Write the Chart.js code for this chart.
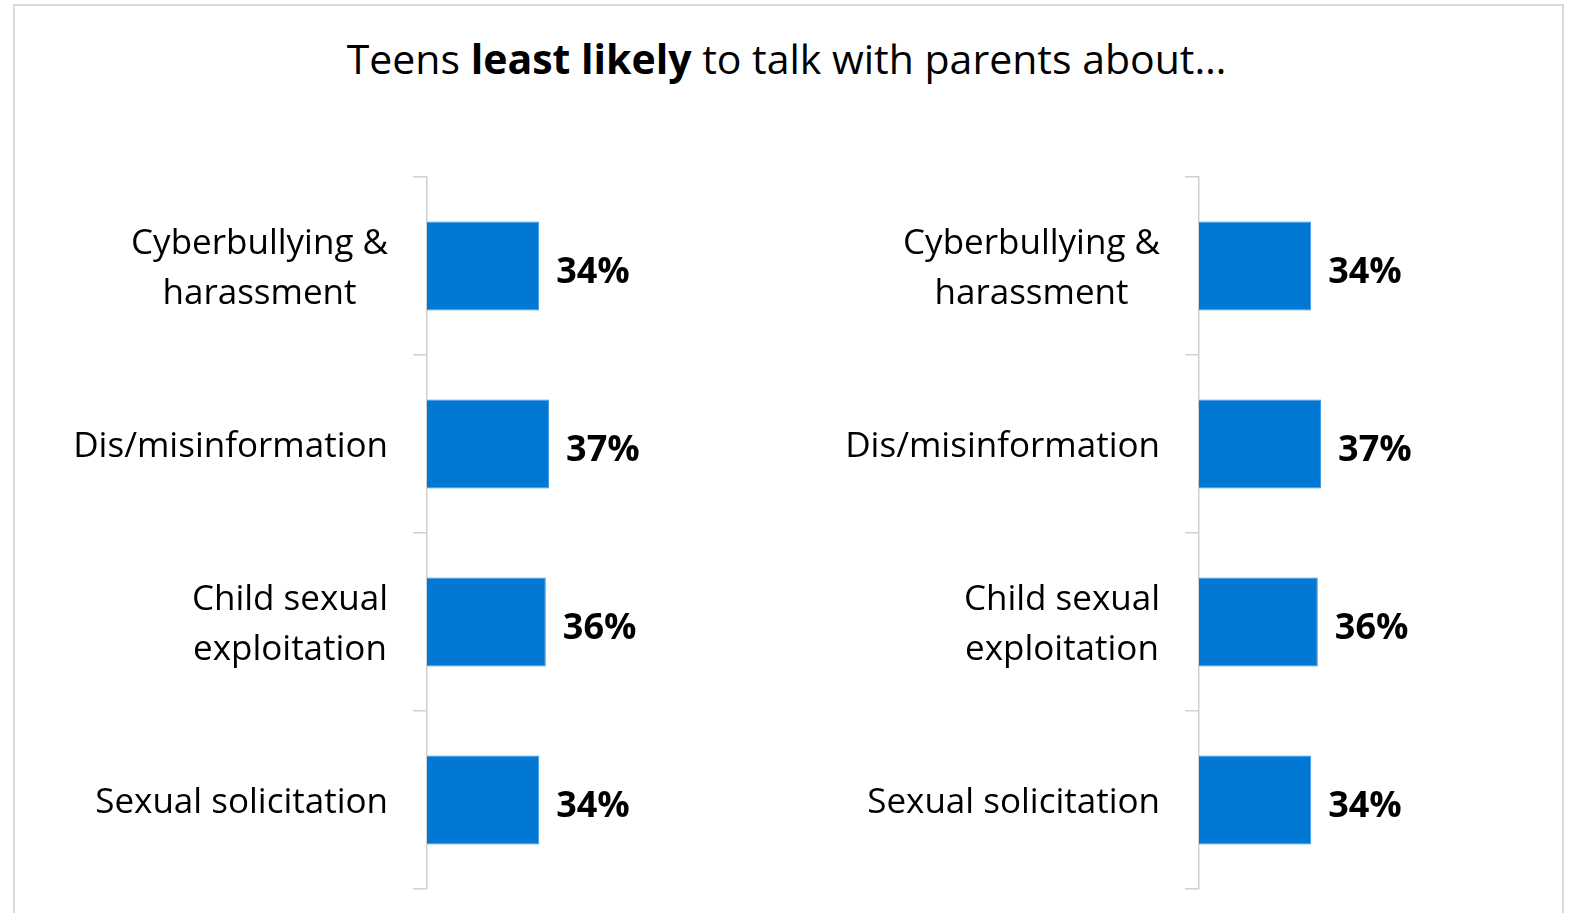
<!DOCTYPE html>
<html>
<head>
<meta charset="utf-8">
<script src="https://cdn.jsdelivr.net/npm/chart.js@4.4.1/dist/chart.umd.min.js"></script>
<style>
  html, body { margin: 0; padding: 0; background: #fff; overflow: hidden; }
  body { width: 1573px; height: 913px; position: relative; font-family: "Open Sans", sans-serif; }
  .frame { position: absolute; left: 13px; top: 4px; width: 1551px; height: 1000px; border: 2px solid #dadada; box-sizing: border-box; }
  .title { position: absolute; left: 0; top: 28px; width: 1573px; text-align: center; font-size: 41px; color: #000; line-height: 60px; }
  .title b { font-weight: 700; }
  .panel { position: absolute; top: 130px; width: 770px; height: 783px; }
</style>
</head>
<body>
<div class="frame"></div>
<div class="title">Teens <b>least likely</b> to talk with parents about…</div>
<div class="panel" style="left:14px"><canvas id="chartLeft"></canvas></div>
<div class="panel" style="left:786px"><canvas id="chartRight"></canvas></div>
<script>
const categories = [
    ['Cyberbullying &', 'harassment'],
    ['Dis/misinformation'],
    ['Child sexual', 'exploitation'],
    ['Sexual solicitation']
];
const leftValues = [34, 37, 36, 34];
const rightValues = [34, 37, 36, 34];

const barColor = '#0078d4';
const axisColor = '#d0d0d0';

// category names drawn left of the axis: block right-aligned, lines centred in the block
const categoryLabels = {
    id: 'categoryLabels',
    afterDraw(chart) {
        const ctx = chart.ctx;
        const yScale = chart.scales.y;
        const right = chart.chartArea.left - 39;
        const lineHeight = 50;
        ctx.save();
        ctx.font = '35px "Open Sans"';
        ctx.fillStyle = '#000';
        ctx.textAlign = 'center';
        ctx.textBaseline = 'middle';
        categories.forEach((lines, i) => {
            const widest = Math.max(...lines.map(l => ctx.measureText(l).width));
            const cx = right - widest / 2;
            const cy = yScale.getPixelForValue(i) + 3;
            const top = cy - (lines.length - 1) * lineHeight / 2;
            lines.forEach((line, j) => ctx.fillText(line, cx, top + j * lineHeight));
        });
        ctx.restore();
    }
};

// percentage labels at the end of each bar
const valueLabels = {
    id: 'valueLabels',
    afterDatasetsDraw(chart) {
        const ctx = chart.ctx;
        const meta = chart.getDatasetMeta(0);
        const values = chart.data.datasets[0].data;
        ctx.save();
        ctx.font = 'bold 36px "Open Sans"';
        ctx.fillStyle = '#000';
        ctx.textAlign = 'left';
        ctx.textBaseline = 'alphabetic';
        meta.data.forEach((bar, i) => {
            ctx.fillText(values[i] + '%', bar.x + 17, bar.y + 17);
        });
        ctx.restore();
    }
};

function createPanel(canvas, values) {
    return new Chart(canvas, {
        type: 'bar',
        data: {
            labels: categories,
            datasets: [{
                data: values,
                backgroundColor: barColor,
                borderColor: '#3a95e0',
                borderWidth: 1,
                barPercentage: 1,
                categoryPercentage: 0.5
            }]
        },
        options: {
            indexAxis: 'y',
            responsive: true,
            maintainAspectRatio: false,
            animation: false,
            layout: { padding: { left: 399, right: 27, top: 47, bottom: 24 } },
            scales: {
                x: { display: false, min: 0, max: 100 },
                y: {
                    ticks: { display: false },
                    grid: { offset: true, drawOnChartArea: false, tickLength: 14, color: axisColor, lineWidth: 1.5 },
                    border: { color: axisColor, width: 1.5 }
                }
            },
            plugins: {
                legend: { display: false },
                tooltip: { enabled: false }
            }
        },
        plugins: [categoryLabels, valueLabels]
    });
}

createPanel(document.getElementById('chartLeft'), leftValues);
createPanel(document.getElementById('chartRight'), rightValues);
</script>
</body>
</html>
